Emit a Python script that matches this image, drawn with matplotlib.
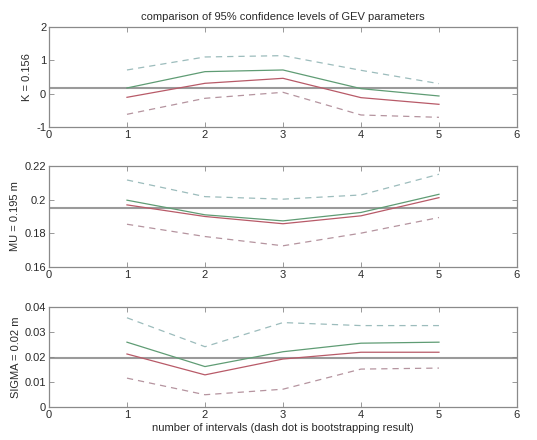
import matplotlib
matplotlib.use("Agg")
import matplotlib.pyplot as plt

plt.rcParams['font.family'] = ['Liberation Sans', 'DejaVu Sans']

x = [1, 2, 3, 4, 5]

k_upper = [0.71, 1.10, 1.14, 0.70, 0.30]
k_green = [0.17, 0.66, 0.71, 0.15, -0.07]
k_red = [-0.11, 0.31, 0.46, -0.12, -0.32]
k_lower = [-0.62, -0.14, 0.04, -0.64, -0.71]
k_ref = 0.156

mu_upper = [0.2117, 0.2018, 0.2003, 0.2028, 0.2151]
mu_green = [0.1997, 0.1910, 0.1874, 0.1924, 0.2032]
mu_red = [0.1969, 0.1900, 0.1857, 0.1904, 0.2012]
mu_lower = [0.1854, 0.1781, 0.1726, 0.1801, 0.1894]
mu_ref = 0.195

sig_upper = [0.0356, 0.0241, 0.0337, 0.0325, 0.0325]
sig_green = [0.0259, 0.0162, 0.0221, 0.0255, 0.0259]
sig_red = [0.0212, 0.0129, 0.0192, 0.0219, 0.0219]
sig_lower = [0.0116, 0.0050, 0.0072, 0.0152, 0.0156]
sig_ref = 0.0198

panels = [
    dict(up=k_upper, g=k_green, r=k_red, lo=k_lower, ref=k_ref,
         ylim=(-1, 2), yticks=[-1, 0, 1, 2], yticklabels=['-1', '0', '1', '2'],
         ylabel='K = 0.156', rect=[0.0912, 0.7114, 0.8715, 0.2273]),
    dict(up=mu_upper, g=mu_green, r=mu_red, lo=mu_lower, ref=mu_ref,
         ylim=(0.16, 0.22), yticks=[0.16, 0.18, 0.2, 0.22],
         yticklabels=['0.16', '0.18', '0.2', '0.22'],
         ylabel='MU = 0.195 m', rect=[0.0912, 0.3932, 0.8715, 0.2295]),
    dict(up=sig_upper, g=sig_green, r=sig_red, lo=sig_lower, ref=sig_ref,
         ylim=(0, 0.04), yticks=[0, 0.01, 0.02, 0.03, 0.04],
         yticklabels=['0', '0.01', '0.02', '0.03', '0.04'],
         ylabel='SIGMA = 0.02 m', rect=[0.0912, 0.0743, 0.8715, 0.2286]),
]

xticks = [0, 1, 2, 3, 4, 5, 6]
xticklabels = ['0', '1', '2', '3', '4', '5', '6']

fig = plt.figure(figsize=(5.37, 4.40), dpi=100)
fs = 8
tc = '#2a2a2a'
axes = []
for p in panels:
    ax = fig.add_axes(p['rect'])
    ax.axhline(p['ref'], color='#9a9a9a', lw=1.5, zorder=1)
    ax.plot(x, p['up'], color='#9cbcbc', lw=0.9, ls=(0, (5, 4)), zorder=2)
    ax.plot(x, p['lo'], color='#b5949f', lw=0.9, ls=(0, (5, 4)), zorder=2)
    ax.plot(x, p['g'], color='#5f9c74', lw=0.9, zorder=3)
    ax.plot(x, p['r'], color='#b85a68', lw=0.9, zorder=3)
    ax.set_xlim(0, 6)
    ax.set_ylim(*p['ylim'])
    ax.set_xticks(xticks)
    ax.set_xticklabels(xticklabels)
    ax.set_yticks(p['yticks'])
    ax.set_yticklabels(p['yticklabels'])
    ax.tick_params(direction='in', length=3.5, width=0.6, top=True, right=True,
                   labelsize=fs, colors='#888888', labelcolor=tc, pad=2)
    for s in ax.spines.values():
        s.set_color('#8a8a8a')
        s.set_linewidth(0.9)
    ax.set_ylabel(p['ylabel'], fontsize=fs, color=tc, labelpad=3)
    axes.append(ax)

axes[0].set_title('comparison of 95% confidence levels of GEV parameters',
                  fontsize=fs, color=tc, pad=5)
axes[2].set_xlabel('number of intervals (dash dot is bootstrapping result)',
                   fontsize=fs, color=tc, labelpad=2)

fig.savefig('out.png', dpi=100)
